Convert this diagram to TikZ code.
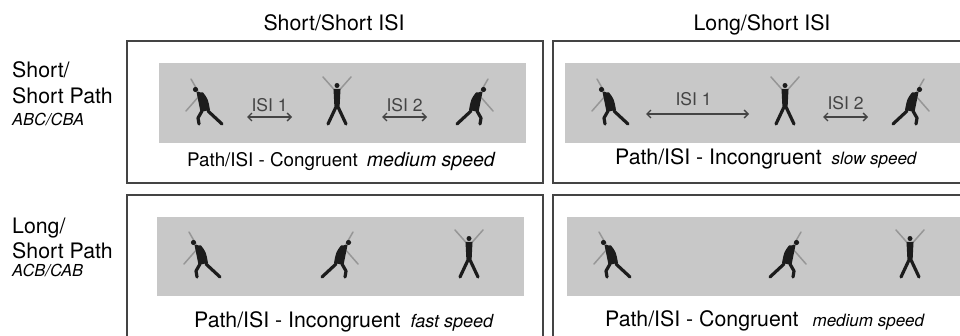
\documentclass[tikz,border=0pt]{standalone}
\usepackage{fontspec}
\setmainfont{texgyreheros}[
    Extension=.otf,
    UprightFont=*-regular,
    ItalicFont=*-italic,
    BoldFont=*-bold,
    BoldItalicFont=*-bolditalic]
\usetikzlibrary{arrows.meta}
\definecolor{frameCol}{RGB}{68,68,68}
\definecolor{stripCol}{RGB}{200,200,200}
\definecolor{armCol}{RGB}{150,150,150}
\definecolor{bodyCol}{RGB}{28,28,28}
\newcommand{\fsz}[1]{\fontsize{#1}{#1}\selectfont}
\tikzset{
    panel/.style={draw=frameCol, line width=2pt},
    strip/.style={fill=stripCol},
    limb/.style={armCol, line width=1.5pt, line cap=round},
    leg/.style={bodyCol, line width=3.2pt, line cap=round, line join=round},
    body/.style={fill=bodyCol},
    isi/.style={frameCol, line width=1.3pt,
        {Straight Barb[length=4pt, width=8pt]}-{Straight Barb[length=4pt, width=8pt]}},
    isilabel/.style={anchor=base, inner sep=0pt},
    txt/.style={anchor=base west, inner sep=0pt},
    % side bend, leaning left (mirror it with xscale=-1)
    pics/lean/.style={code={
        \draw[limb] (-5,-32) -- (-13,-46);
        \draw[limb] (-4,-30) -- (-18,-14);
        \fill[body] (-7.5,-33) -- (-1,-32.5) .. controls (4,-26) .. (6,-15) -- (-3.5,-13) -- cycle;
        \fill[body] (-8.5,-35.5) circle (2.6);
        \draw[leg] (-2,-14) -- (-6,-7) -- (-5,-1);
        \draw[leg] (4,-14) -- (18,-1);
    }},
    % arms up, legs apart
    pics/star/.style={code={
        \draw[limb] (-2.5,-35) -- (-14,-48);
        \draw[limb] (2.5,-35) -- (14,-48);
        \fill[body] (-3.5,-36) -- (3.5,-36) -- (2.5,-16) -- (-2.5,-16) -- cycle;
        \fill[body] (0,-39.5) circle (2.5);
        \draw[leg] (-1.5,-17) -- (-9,-1);
        \draw[leg] (1.5,-17) -- (9,-1);
    }}
}

\begin{document}
\begin{tikzpicture}[x=1pt, y=-1pt]

    % Configuration
    \def\topfeet{125}   % feet line, upper row
    \def\botfeet{278}   % feet line, lower row

    \useasboundingbox (0,0) rectangle (960,336);
    \clip (0,0) rectangle (960,336);

    % 1. Panels and grey strips
    \draw[panel] (126.7,41) rectangle (543,183);
    \draw[panel] (553,41) rectangle (975,183);
    \draw[panel] (126.7,195) rectangle (543,350);
    \draw[panel] (553,195) rectangle (975,350);

    \fill[strip] (159,63) rectangle (526,143);
    \fill[strip] (565,63) rectangle (975,143);
    \fill[strip] (157,217) rectangle (524,296);
    \fill[strip] (567,217) rectangle (975,296);

    % 2. Column and row headings
    \node[anchor=base, inner sep=0pt] (colShort) at (334,31) {\fsz{21.3}Short/Short ISI};
    \node[anchor=base, inner sep=0pt] (colLong) at (762,31) {\fsz{21.3}Long/Short ISI};

    \node[txt] (rowShortA) at (12,78) {\fsz{21.3}Short/};
    \node[txt] (rowShortB) at (12,104) {\fsz{21.3}Short Path};
    \node[txt] (rowShortC) at (12,125.5) {\fsz{16.5}\itshape ABC/CBA};
    \node[txt] (rowLongA) at (12,234) {\fsz{21.3}Long/};
    \node[txt] (rowLongB) at (12,259) {\fsz{21.3}Short Path};
    \node[txt] (rowLongC) at (12,277) {\fsz{16.5}\itshape ACB/CAB};

    % 3. Figures
    \pic (tlA) at (204,\topfeet) {lean};
    \pic (tlB) at (337,\topfeet) {star};
    \pic[xscale=-1] (tlC) at (475,\topfeet) {lean};

    \pic (trA) at (610,\topfeet) {lean};
    \pic (trB) at (785,\topfeet) {star};
    \pic[xscale=-1] (trC) at (911,\topfeet) {lean};

    \pic (blA) at (202,\botfeet) {lean};
    \pic[xscale=-1] (blC) at (340,\botfeet) {lean};
    \pic (blB) at (469,\botfeet) {star};

    \pic (brA) at (612,\botfeet) {lean};
    \pic[xscale=-1] (brC) at (788,\botfeet) {lean};
    \pic (brB) at (910,\botfeet) {star};

    % 4. ISI intervals
    \coordinate (tl1s) at (247,117);
    \coordinate (tl1e) at (292,117);
    \coordinate (tl2s) at (382,117);
    \coordinate (tl2e) at (427,117);
    \coordinate (tr1s) at (646,114);
    \coordinate (tr1e) at (749,114);
    \coordinate (tr2s) at (823,117);
    \coordinate (tr2e) at (868,117);

    \draw[isi] (tl1s) -- (tl1e) node[midway, isilabel, yshift=5pt] (tlIsiA) {\fsz{17.5}ISI 1};
    \draw[isi] (tl2s) -- (tl2e) node[midway, isilabel, yshift=5pt] (tlIsiB) {\fsz{17.5}ISI 2};
    \draw[isi] (tr1s) -- (tr1e) node[midway, isilabel, yshift=8pt, xshift=-4pt] (trIsiA) {\fsz{17.5}ISI 1};
    \draw[isi] (tr2s) -- (tr2e) node[midway, isilabel, yshift=7pt] (trIsiB) {\fsz{17.5}ISI 2};

    % 5. Captions
    \node[txt] (capTL) at (187,167)
        {\fsz{18.8}Path/ISI - Congruent\hspace{9pt}{\fsz{19.5}\itshape medium speed}};
    \node[txt] (capTR) at (615,165)
        {\fsz{21.3}Path/ISI - Incongruent\hspace{10pt}{\fsz{17}\itshape slow speed}};
    \node[txt] (capBL) at (194,327)
        {\fsz{21.3}Path/ISI - Incongruent\hspace{10pt}{\fsz{18}\itshape fast speed}};
    \node[txt] (capBR) at (605,326)
        {\fsz{21.3}Path/ISI - Congruent\hspace{14pt}{\fsz{17}\itshape medium speed}};

\end{tikzpicture}
\end{document}
